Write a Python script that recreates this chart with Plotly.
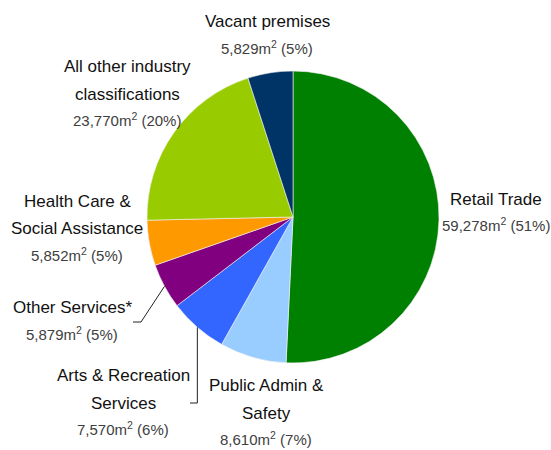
import math
import plotly.graph_objects as go

# ---- data ----
categories = ["Retail Trade", "Public Admin & Safety", "Arts & Recreation Services",
              "Other Services*", "Health Care & Social Assistance",
              "All other industry classifications", "Vacant premises"]
areas = [59278, 8610, 7570, 5879, 5852, 23770, 5829]
pct_labels = ["51%", "7%", "6%", "5%", "5%", "20%", "5%"]
name_lines = [["Retail Trade"], ["Public Admin &", "Safety"], ["Arts & Recreation", "Services"],
              ["Other Services*"], ["Health Care &", "Social Assistance"],
              ["All other industry", "classifications"], ["Vacant premises"]]
colors = ["#008000", "#99CCFF", "#3366FF", "#800080", "#FF9900", "#99CC00", "#003366"]

W, H = 551, 450
CX, CY, R = 293, 217, 146

fig = go.Figure(go.Pie(
    values=areas, labels=categories, sort=False, direction="clockwise", rotation=0,
    textinfo="none", hoverinfo="label+value+percent",
    marker=dict(colors=colors, line=dict(color="#f4f4f4", width=0.6)),
    domain=dict(x=[(CX - R) / W, (CX + R) / W], y=[(H - CY - R) / H, (H - CY + R) / H]),
    showlegend=False,
))

NAME_FONT = dict(family="Liberation Sans, Arial, sans-serif", size=17, color="#111111")
VAL_FONT = dict(family="Liberation Sans, Arial, sans-serif", size=15, color="#404040")

# label placement (pixel centre x, y of first line), line step
label_pos = [(496, 199), (266, 385.5), (123, 375.5), (72, 307.5), (77, 201.5), (127, 67), (267, 22)]
STEP = 27.5

annotations = []
for i, (x, y0) in enumerate(label_pos):
    lines = name_lines[i]
    for k, ln in enumerate(lines):
        annotations.append(dict(x=x / W, y=1 - (y0 + k * STEP) / H, xref="paper", yref="paper",
                                text=ln, showarrow=False, xanchor="center", yanchor="middle",
                                font=NAME_FONT))
    yv = y0 + len(lines) * STEP - 2
    annotations.append(dict(x=x / W, y=1 - yv / H, xref="paper", yref="paper",
                            text=f"{areas[i]:,}m<sup>2</sup> ({pct_labels[i]})", showarrow=False,
                            xanchor="center", yanchor="middle", font=VAL_FONT))

# leader lines from slice mid-angle on the rim
total = sum(areas)
cum = 0
mids = []
for v in areas:
    mids.append((cum + v / 2) / total * 2 * math.pi)
    cum += v

def rim(i):
    a = mids[i]
    return CX + R * math.sin(a), CY - R * math.cos(a)

shapes = []
def seg(p, q):
    shapes.append(dict(type="line", xref="paper", yref="paper",
                       x0=p[0] / W, y0=1 - p[1] / H, x1=q[0] / W, y1=1 - q[1] / H,
                       line=dict(color="#222222", width=1)))

# Other Services*
ox, oy = rim(3)
seg((ox, oy), (141, 322))
seg((141, 322), (133, 322))
# Arts & Recreation
ax_, ay_ = rim(2)
seg((ax_, ay_), (ax_, 403))
seg((ax_, 403), (190, 403))

fig.update_layout(width=W, height=H, margin=dict(l=0, r=0, t=0, b=0),
                  paper_bgcolor="white", plot_bgcolor="white",
                  annotations=annotations, shapes=shapes)
fig.write_html("out.html")
